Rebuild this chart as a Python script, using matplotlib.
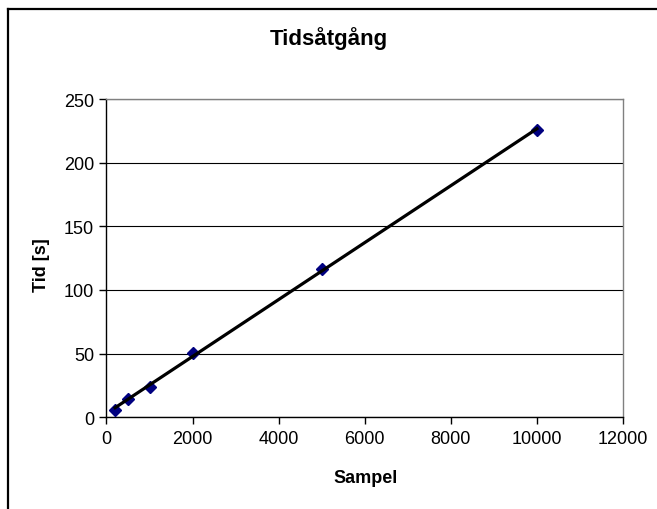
import matplotlib.pyplot as plt
import numpy as np
from matplotlib.lines import Line2D

plt.rcParams['font.family'] = ['Liberation Sans', 'DejaVu Sans']

# measurements
sampel = [200, 500, 1000, 2000, 5000, 10000]
tid = [6, 14, 24, 50.5, 116.5, 225.5]

x_ticks = [0, 2000, 4000, 6000, 8000, 10000, 12000]
y_ticks = [0, 50, 100, 150, 200, 250]

fig = plt.figure(figsize=(6.57, 5.10), dpi=100)
ax = fig.add_axes([0.1621, 0.1798, 0.7862, 0.6241])

# linear trendline over the data range
k, m = np.polyfit(sampel, tid, 1)
xt = np.array([min(sampel), max(sampel)])
ax.plot(xt, k * xt + m, color='black', linewidth=2.3, zorder=4)
ax.plot(sampel, tid, linestyle='none', marker='D', markersize=6,
        color='#000080', zorder=3)

ax.set_xlim(0, 12000)
ax.set_ylim(0, 250)
ax.set_xticks(x_ticks)
ax.set_yticks(y_ticks)
ax.tick_params(direction='out', length=5, width=1, labelsize=13, pad=4)
ax.yaxis.grid(True, color='black', linewidth=0.8)
ax.set_axisbelow(True)
for s in ['top', 'right']:
    ax.spines[s].set_color('#808080')
    ax.spines[s].set_linewidth(1)
for s in ['left', 'bottom']:
    ax.spines[s].set_color('black')
    ax.spines[s].set_linewidth(1)

fig.text(329 / 657, 1 - 39 / 510, 'Tidsåtgång', ha='center', va='center',
         fontsize=16, fontweight='bold')
fig.text(366 / 657, 1 - 479 / 510, 'Sampel', ha='center', va='center',
         fontsize=13, fontweight='bold')
fig.text(41 / 657, 1 - 265 / 510, 'Tid [s]', ha='center', va='center',
         rotation=90, fontsize=13, fontweight='bold')

# outer chart border (right and bottom fall outside the picture)
bx, by = 7.5 / 657, 1 - 9.5 / 510
fig.add_artist(Line2D([bx, bx], [0, by], transform=fig.transFigure,
                      color='black', linewidth=1.6))
fig.add_artist(Line2D([bx, 1], [by, by], transform=fig.transFigure,
                      color='black', linewidth=1.6))

fig.savefig('out.png', dpi=100)
